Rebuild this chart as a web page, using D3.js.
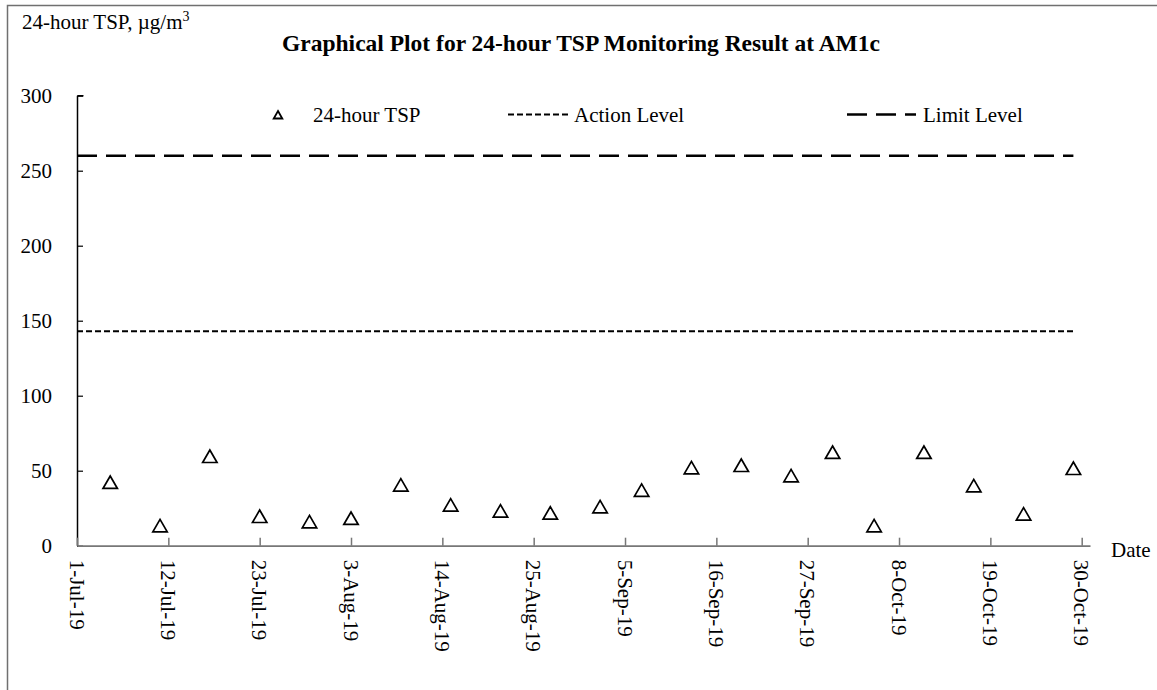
<!DOCTYPE html>
<html><head><meta charset="utf-8">
<script src="https://cdn.jsdelivr.net/npm/d3@7"></script>
<style>
body{margin:0;background:#fff;}
text{font-family:"Times New Roman","Liberation Serif",serif;fill:#000;}
</style></head>
<body>
<svg id="c" width="1157" height="690"></svg>
<script>
const sampleDates = ["2019-07-05","2019-07-11","2019-07-17","2019-07-23","2019-07-29","2019-08-03","2019-08-09","2019-08-15","2019-08-21","2019-08-27","2019-09-02","2019-09-07","2019-09-13","2019-09-19","2019-09-25","2019-09-30","2019-10-05","2019-10-11","2019-10-17","2019-10-23","2019-10-29"];
const tspValues = [41.6,12.7,58.9,18.9,15.3,17.6,39.8,26.5,22.5,21.1,25.3,36.3,51.3,52.9,46,61.6,12.7,61.6,39.3,20.5,50.9];
const actionLevel = 143;
const limitLevel = 260;
const yTicks = [0,50,100,150,200,250,300];
const xTickDates = ["2019-07-01","2019-07-12","2019-07-23","2019-08-03","2019-08-14","2019-08-25","2019-09-05","2019-09-16","2019-09-27","2019-10-08","2019-10-19","2019-10-30"];
const xDomain = ["2019-07-01","2019-10-31"];
const levelSpan = ["2019-07-01","2019-10-29"];

const parse = d3.utcParse("%Y-%m-%d");
const fmt = d3.utcFormat("%-d-%b-%y");
const svg = d3.select("#c");
const FS = "21px";

// outer frame
svg.append("rect").attr("x",7.5).attr("y",5.5).attr("width",1300).attr("height",800)
  .attr("fill","none").attr("stroke","#707070").attr("stroke-width",1.5);

const x = d3.scaleUtc().domain(xDomain.map(parse)).range([77,1090]);
const y = d3.scaleLinear().domain([0,300]).range([545.7,95.7]);

// title
svg.append("text").attr("x",581).attr("y",51).attr("text-anchor","middle")
  .style("font-size","23.5px").style("font-weight","bold")
  .text("Graphical Plot for 24-hour TSP Monitoring Result at AM1c");

// y title
const yt = svg.append("text").attr("x",22).attr("y",29).style("font-size",FS);
yt.append("tspan").text("24-hour TSP, \u00b5g/m");
yt.append("tspan").attr("dy",-8).style("font-size","14px").text("3");

// y axis
const yAxis = d3.axisRight(y).tickValues(yTicks).tickSize(6).tickFormat("");
const yg = svg.append("g").attr("transform","translate(77,0)").call(yAxis);
yg.select(".domain").attr("stroke","#000").attr("stroke-width",1.5).attr("d",`M0.5,${y(300)}H6.5M0.5,${y(300)}V${y(0)}`);
yg.selectAll(".tick line").attr("stroke","#000").attr("stroke-width",1.2);
svg.selectAll(".ylab").data(yTicks).enter().append("text")
  .attr("x",52).attr("y",d=>y(d)).attr("dy","0.35em").attr("text-anchor","end")
  .style("font-size",FS).text(d=>d);

// x axis
const xAxis = d3.axisTop(x).tickValues(xTickDates.map(parse)).tickSize(8).tickFormat("").tickSizeOuter(0);
const xg = svg.append("g").attr("transform",`translate(0,${y(0)})`).call(xAxis);
xg.select(".domain").attr("stroke","#777").attr("stroke-width",1.8);
xg.selectAll(".tick line").attr("stroke","#777").attr("stroke-width",1.5);
svg.selectAll(".xlab").data(xTickDates).enter().append("text")
  .attr("transform",d=>`translate(${x(parse(d))},${y(0)+14}) rotate(90)`)
  .attr("dy","0.35em").attr("text-anchor","start")
  .style("font-size",FS).text(d=>fmt(parse(d)));
svg.append("text").attr("x",1111).attr("y",557).style("font-size",FS).text("Date");

// level lines
svg.append("line").attr("x1",x(parse(levelSpan[0]))).attr("x2",x(parse(levelSpan[1])))
  .attr("y1",y(actionLevel)).attr("y2",y(actionLevel))
  .attr("stroke","#000").attr("stroke-width",2).attr("stroke-dasharray","6,3");
svg.append("line").attr("x1",x(parse(levelSpan[0]))).attr("x2",x(parse(levelSpan[1])))
  .attr("y1",y(limitLevel)).attr("y2",y(limitLevel))
  .attr("stroke","#000").attr("stroke-width",2.5).attr("stroke-dasharray","20,9");

// markers
const tri = d3.symbol().type(d3.symbolTriangle).size(90);
svg.selectAll(".pt").data(sampleDates.map((d,i)=>({d:parse(d),v:tspValues[i]}))).enter()
  .append("path").attr("d",tri)
  .attr("transform",d=>`translate(${x(d.d)},${y(d.v)+1})`)
  .attr("fill","none").attr("stroke","#000").attr("stroke-width",1.7);

// legend
const lg = svg.append("g");
lg.append("path").attr("d",d3.symbol().type(d3.symbolTriangle).size(32))
  .attr("transform","translate(278,116)").attr("fill","none").attr("stroke","#000").attr("stroke-width",1.8);
lg.append("text").attr("x",313).attr("y",122).style("font-size",FS).text("24-hour TSP");
lg.append("line").attr("x1",508).attr("x2",568).attr("y1",114.5).attr("y2",114.5)
  .attr("stroke","#000").attr("stroke-width",2).attr("stroke-dasharray","6,3");
lg.append("text").attr("x",574).attr("y",122).style("font-size",FS).text("Action Level");
lg.append("line").attr("x1",847).attr("x2",916).attr("y1",114.5).attr("y2",114.5)
  .attr("stroke","#000").attr("stroke-width",2.5).attr("stroke-dasharray","20,9");
lg.append("text").attr("x",923).attr("y",122).style("font-size",FS).text("Limit Level");
</script>
</body></html>
